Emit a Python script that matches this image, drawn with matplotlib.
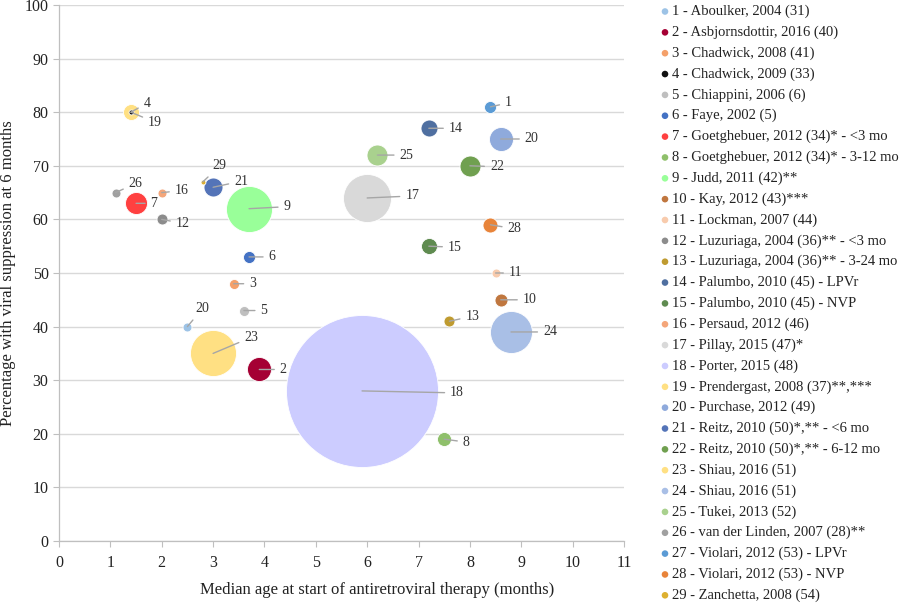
import matplotlib
matplotlib.use("Agg")
import matplotlib.pyplot as plt
from matplotlib.patches import Ellipse
import numpy as np

plt.rcParams['font.family'] = ['Liberation Serif', 'DejaVu Serif']

# ---------------- data ----------------
legend_names = [
    "1 - Aboulker, 2004 (31)", "2 - Asbjornsdottir, 2016 (40)", "3 - Chadwick, 2008 (41)",
    "4 - Chadwick, 2009 (33)", "5 - Chiappini, 2006 (6)", "6 - Faye, 2002 (5)",
    "7 - Goetghebuer, 2012 (34)* - <3 mo", "8 - Goetghebuer, 2012 (34)* - 3-12 mo",
    "9 - Judd, 2011 (42)**", "10 - Kay, 2012 (43)***", "11 - Lockman, 2007 (44)",
    "12 - Luzuriaga, 2004 (36)** - <3 mo", "13 - Luzuriaga, 2004 (36)** - 3-24 mo",
    "14 - Palumbo, 2010 (45) - LPVr", "15 - Palumbo, 2010 (45) - NVP",
    "16 - Persaud, 2012 (46)", "17 - Pillay, 2015 (47)*", "18 - Porter, 2015 (48)",
    "19 - Prendergast, 2008 (37)**,***", "20 - Purchase, 2012 (49)",
    "21 - Reitz, 2010 (50)*,** - <6 mo", "22 - Reitz, 2010 (50)*,** - 6-12 mo",
    "23 - Shiau, 2016 (51)", "24 - Shiau, 2016 (51)", "25 - Tukei, 2013 (52)",
    "26 - van der Linden, 2007 (28)**", "27 - Violari, 2012 (53) - LPVr",
    "28 - Violari, 2012 (53) - NVP", "29 - Zanchetta, 2008 (54)",
]
legend_colors = [
    "#9DC3E6", "#A50034", "#F4A06A", "#111111", "#BFBFBF", "#4472C4", "#FF4040",
    "#8FC06B", "#99FF99", "#C0773F", "#F8CBAD", "#8C8C8C", "#BF9B30", "#4F6FA0",
    "#5F8B50", "#F4A67A", "#D9D9D9", "#CCCCFF", "#FFE083", "#8FAADC", "#5474B8",
    "#70A050", "#FFE083", "#A9BFE6", "#A9D18E", "#A0A0A0", "#5B9BD5", "#E8843A",
    "#DDB030",
]

# bubbles as labelled on the chart
bubble_label = ["1", "2", "3", "4", "5", "6", "7", "8", "9", "10", "11", "12", "13", "14",
                "15", "16", "17", "18", "19", "20", "20", "21", "22", "23", "24", "25",
                "26", "28", "29"]
bubble_x = [8.4, 3.9, 3.4, 1.4, 3.6, 3.7, 1.5, 7.5, 3.7, 8.6, 8.5, 2.0, 7.6, 7.2,
            7.2, 2.0, 6.0, 5.9, 1.4, 8.6, 2.5, 3.0, 8.0, 3.0, 8.8, 6.2, 1.1, 8.4, 2.8]
bubble_y = [81, 32, 48, 80, 43, 53, 63, 19, 62, 45, 50, 60, 41, 77,
            55, 65, 64, 28, 80, 75, 40, 66, 70, 35, 39, 72, 65, 59, 67]
bubble_n = [36, 144, 25, 6, 25, 36, 121, 49, 530, 42, 20, 30, 30, 72,
            64, 20, 576, 5776, 64, 144, 20, 90, 110, 530, 441, 110, 20, 56, 6]
bubble_series = [27, 2, 3, 4, 5, 6, 7, 8, 9, 10, 11, 12, 13, 14,
                 15, 16, 17, 18, 19, 20, 1, 21, 22, 23, 24, 25, 26, 28, 29]

# label offsets (pixels, right/down) of each label from its bubble
label_dx = [18, 24, 19, 16, 20, 23, 18, 22, 38, 29, 20, 21, 23, 27,
            26, 20, 45, 95, 24, 31, 15, 28, 27, 38, 39, 29, 20, 24, 17]
label_dy = [-4, 0, 0, -9, 0, 0, 0, 3, -2, 0, 0, 4, -5, 0,
            1, -2, -2, 2, 10, 0, -18, -6, 1, -16, 0, 0, -9, 4, -16]

# ---------------- figure ----------------
W, H = 900, 604
fig = plt.figure(figsize=(9, 6.04), dpi=100)
ax = fig.add_axes([59 / W, 1 - 541 / H, (624 - 59) / W, (541 - 5) / H])

ax.set_xlim(0, 11)
ax.set_ylim(0, 100)
ax.set_xticks(range(0, 12))
ax.set_yticks(range(0, 101, 10))
ax.tick_params(axis='both', labelsize=11.5, colors='#BFBFBF', labelcolor='#222222',
               length=4, width=0.8, direction='out')
ax.tick_params(axis='x', pad=6)
ax.grid(axis='y', color='#D9D9D9', lw=1.0, zorder=0)
ax.set_axisbelow(True)
for s in ['top', 'right']:
    ax.spines[s].set_visible(False)
for s in ['left', 'bottom']:
    ax.spines[s].set_color('#BFBFBF')
    ax.spines[s].set_linewidth(0.9)

ax.set_xlabel("Median age at start of antiretroviral therapy (months)", fontsize=12,
              color='#222222')
ax.xaxis.set_label_coords((377 - 59) / (624 - 59), -(582 - 541) / (541 - 5))
ax.set_ylabel("Percentage with viral suppression at 6 months", fontsize=12,
              color='#222222', labelpad=6)

# bubble areas: radius in px proportional to sqrt(n)
px_to_pt = 72 / 100
sizes = [(2 * np.sqrt(n) * px_to_pt) ** 2 for n in bubble_n]
order = np.argsort(bubble_n)[::-1]
for k, i in enumerate(order):
    ax.scatter(bubble_x[i], bubble_y[i], s=sizes[i],
               color=legend_colors[bubble_series[i] - 1],
               edgecolors='white', linewidths=0.6, zorder=3 + k * 0.01)

for i in range(len(bubble_label)):
    dx, dy = label_dx[i], label_dy[i]
    ax.annotate(bubble_label[i], xy=(bubble_x[i], bubble_y[i]),
                xytext=(dx * px_to_pt, -dy * px_to_pt), textcoords='offset points',
                ha='center', va='center', fontsize=10, color='#333333', zorder=10,
                arrowprops=dict(arrowstyle='-', color='#A6A6A6', lw=1.0,
                                shrinkA=2, shrinkB=0))

# legend
for i, (name, col) in enumerate(zip(legend_names, legend_colors)):
    py = 11.5 + i * 20.85
    fig.add_artist(Ellipse((665 / W, 1 - py / H), 6.6 / W, 6.6 / H,
                           transform=fig.transFigure, facecolor=col, edgecolor='none'))
    fig.text(672 / W, 1 - py / H, name, fontsize=10.5, color='#222222',
             ha='left', va='center')

fig.savefig("out.png", dpi=100)
